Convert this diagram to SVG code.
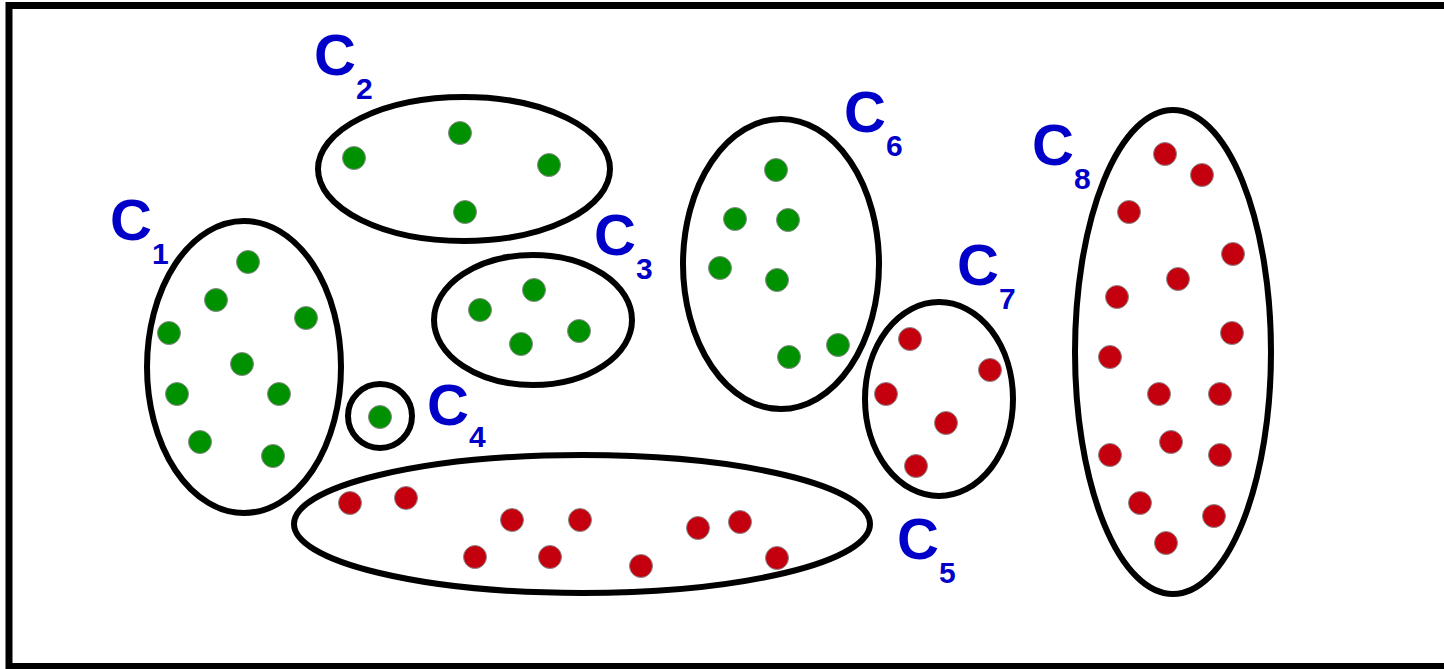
<svg xmlns="http://www.w3.org/2000/svg" width="1444" height="669" viewBox="0 0 1444 669">
<style>
.cl{fill:none;stroke:#000;stroke-width:6}
.g{fill:#009100;stroke:#8a8a8a;stroke-width:1}
.r{fill:#c4000f;stroke:#8a8a8a;stroke-width:1}
.lb{font-family:"Liberation Sans",Arial,sans-serif;font-weight:bold;font-size:58px;fill:#0000c8}
.sb{font-size:30px}
</style>
<rect x="0" y="0" width="1444" height="669" fill="#fff"/>
<rect x="9" y="5.5" width="1450" height="661" fill="none" stroke="#000" stroke-width="7"/>
<g id="C1">
<ellipse class="cl" cx="244" cy="367" rx="97" ry="146"/>
<circle class="g" cx="248" cy="262" r="11.5"/><circle class="g" cx="216" cy="300" r="11.5"/><circle class="g" cx="169" cy="333" r="11.5"/><circle class="g" cx="306" cy="318" r="11.5"/><circle class="g" cx="242" cy="364" r="11.5"/><circle class="g" cx="177" cy="394" r="11.5"/><circle class="g" cx="279" cy="394" r="11.5"/><circle class="g" cx="200" cy="442" r="11.5"/><circle class="g" cx="273" cy="456" r="11.5"/>
<text class="lb" x="110" y="240">C<tspan class="sb" dy="24">1</tspan></text>
</g>
<g id="C2">
<ellipse class="cl" cx="464" cy="169" rx="146" ry="72"/>
<circle class="g" cx="354" cy="158" r="11.5"/><circle class="g" cx="460" cy="133" r="11.5"/><circle class="g" cx="549" cy="165" r="11.5"/><circle class="g" cx="465" cy="212" r="11.5"/>
<text class="lb" x="314" y="75">C<tspan class="sb" dy="24">2</tspan></text>
</g>
<g id="C3">
<ellipse class="cl" cx="533" cy="320" rx="99" ry="65"/>
<circle class="g" cx="534" cy="290" r="11.5"/><circle class="g" cx="480" cy="310" r="11.5"/><circle class="g" cx="579" cy="331" r="11.5"/><circle class="g" cx="521" cy="344" r="11.5"/>
<text class="lb" x="594" y="255">C<tspan class="sb" dy="24">3</tspan></text>
</g>
<g id="C4">
<circle class="cl" cx="380" cy="416" r="32"/>
<circle class="g" cx="380" cy="417" r="11.5"/>
<text class="lb" x="427" y="425">C<tspan class="sb" dy="22">4</tspan></text>
</g>
<g id="C5">
<ellipse class="cl" cx="582" cy="524" rx="288" ry="69"/>
<circle class="r" cx="350" cy="503" r="11.5"/><circle class="r" cx="406" cy="498" r="11.5"/><circle class="r" cx="512" cy="520" r="11.5"/><circle class="r" cx="580" cy="520" r="11.5"/><circle class="r" cx="698" cy="528" r="11.5"/><circle class="r" cx="740" cy="522" r="11.5"/><circle class="r" cx="475" cy="557" r="11.5"/><circle class="r" cx="550" cy="557" r="11.5"/><circle class="r" cx="641" cy="566" r="11.5"/><circle class="r" cx="777" cy="558" r="11.5"/>
<text class="lb" x="897" y="559">C<tspan class="sb" dy="24">5</tspan></text>
</g>
<g id="C6">
<ellipse class="cl" cx="781" cy="264" rx="98" ry="145"/>
<circle class="g" cx="776" cy="170" r="11.5"/><circle class="g" cx="735" cy="219" r="11.5"/><circle class="g" cx="788" cy="220" r="11.5"/><circle class="g" cx="720" cy="268" r="11.5"/><circle class="g" cx="777" cy="280" r="11.5"/><circle class="g" cx="789" cy="357" r="11.5"/><circle class="g" cx="838" cy="345" r="11.5"/>
<text class="lb" x="844" y="132">C<tspan class="sb" dy="24">6</tspan></text>
</g>
<g id="C7">
<ellipse class="cl" cx="939" cy="399" rx="74" ry="97"/>
<circle class="r" cx="910" cy="339" r="11.5"/><circle class="r" cx="990" cy="370" r="11.5"/><circle class="r" cx="886" cy="394" r="11.5"/><circle class="r" cx="946" cy="423" r="11.5"/><circle class="r" cx="916" cy="466" r="11.5"/>
<text class="lb" x="957" y="285">C<tspan class="sb" dy="24">7</tspan></text>
</g>
<g id="C8">
<ellipse class="cl" cx="1173" cy="352" rx="98" ry="242"/>
<circle class="r" cx="1165" cy="154" r="11.5"/><circle class="r" cx="1202" cy="175" r="11.5"/><circle class="r" cx="1129" cy="212" r="11.5"/><circle class="r" cx="1233" cy="254" r="11.5"/><circle class="r" cx="1178" cy="279" r="11.5"/><circle class="r" cx="1117" cy="297" r="11.5"/><circle class="r" cx="1232" cy="333" r="11.5"/><circle class="r" cx="1110" cy="357" r="11.5"/><circle class="r" cx="1159" cy="394" r="11.5"/><circle class="r" cx="1220" cy="394" r="11.5"/><circle class="r" cx="1171" cy="442" r="11.5"/><circle class="r" cx="1110" cy="455" r="11.5"/><circle class="r" cx="1220" cy="455" r="11.5"/><circle class="r" cx="1140" cy="503" r="11.5"/><circle class="r" cx="1214" cy="516" r="11.5"/><circle class="r" cx="1166" cy="543" r="11.5"/>
<text class="lb" x="1032" y="165">C<tspan class="sb" dy="24">8</tspan></text>
</g>
<g id="connectors"></g>
</svg>
